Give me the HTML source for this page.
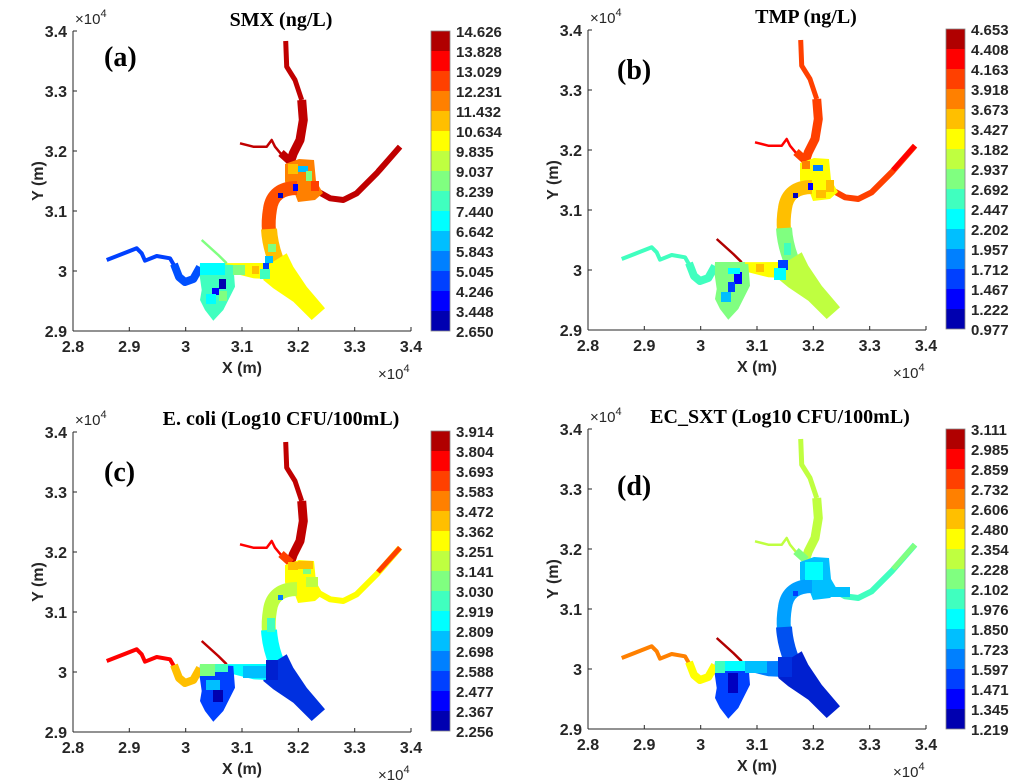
<!DOCTYPE html>
<html><head><meta charset="utf-8"><style>
html,body{margin:0;padding:0;background:#fff}
svg{display:block}
.t{font-family:"Liberation Sans",Arial,sans-serif;font-weight:bold;font-size:16px;fill:#262626}
.cb{font-family:"Liberation Sans",Arial,sans-serif;font-weight:bold;font-size:15px;fill:#262626}
.ti{font-family:"Liberation Serif","Times New Roman",serif;font-weight:bold;font-size:20px;fill:#000}
.lb{font-family:"Liberation Serif","Times New Roman",serif;font-weight:bold;font-size:28px;fill:#000}
.sm{font-family:"Liberation Sans",Arial,sans-serif;font-size:15px;fill:#262626}
</style></head><body>
<svg width="1026" height="781" viewBox="0 0 1026 781" xmlns="http://www.w3.org/2000/svg">
<defs>
<g id="shape" fill="none" stroke-linejoin="round" stroke-linecap="butt">
  <path d="M212.7,10 L213.7,35.7 L222,49 L228.7,69" style="stroke:var(--n)" stroke-width="5"/>
  <path d="M228.7,69 L230.3,89 L227,109 L220.3,122.3 L217,132" style="stroke:var(--n)" stroke-width="9"/>
  <path d="M167,112.3 L180.3,115.7 L193.7,115.7 L198.7,109 L202,115.7 L210.3,125.7 L218.7,131" style="stroke:var(--nw)" stroke-width="2.5"/>
  <path d="M208,122 L218,131" style="stroke:var(--nw2)" stroke-width="8"/>
  <path d="M327,115.7 L303.7,142.3 L283.7,162.3 L270.3,169 L257,167.3 L245.3,160.7" style="stroke:var(--ne)" stroke-width="6"/>
  <path d="M305,140 L327,115.7" style="stroke:var(--ne2)" stroke-width="5"/>
  <polygon points="212,133 226,128 241,129 243,150 250,162 242,169 225,171 222,163 214,160 212,150" style="fill:var(--j)"/>
  <path d="M224,157 Q200,157 197,178 Q195,190 196,200" style="stroke:var(--m1)" stroke-width="14"/>
  <path d="M196,198 Q197,215 204,232" style="stroke:var(--m2)" stroke-width="16"/>
  <polygon points="192,235.7 213.7,222.3 220.3,235.7 233.7,255.7 252,277.3 238.7,289 220.3,270.7 200.3,257.3 190.3,249" style="fill:var(--f)"/>
  <polygon points="127,232.3 193.7,232 196,248 180.3,247.3 160.3,242.3 127,244" style="fill:var(--w)"/>
  <polygon points="127,232.3 160.3,234 162,255.7 150.3,279 140.3,289.7 132,279 127,269 128.7,259 126.3,242.3" style="fill:var(--l)"/>
  <path d="M33.7,229 L63.7,217.3 L68.7,222.3 L72,229.7 L83.7,225 L97,227.3 L103.7,239" style="stroke:var(--r)" stroke-width="4"/>
  <path d="M101,233 L106,246 L112,251 L120.3,248 L127,236" style="stroke:var(--r2)" stroke-width="8"/>
  <path d="M128.7,209 L145.3,224 L153.7,232.3" style="stroke:var(--s)" stroke-width="2.5"/>
</g>
<g id="axes">
  <line x1="0" y1="0" x2="0" y2="300" stroke="#262626" stroke-width="1"/>
  <line x1="0" y1="300" x2="338" y2="300" stroke="#262626" stroke-width="1"/>
  <g stroke="#262626" stroke-width="1">
    <line x1="56.3" y1="300" x2="56.3" y2="296"/><line x1="112.7" y1="300" x2="112.7" y2="296"/><line x1="169" y1="300" x2="169" y2="296"/><line x1="225.3" y1="300" x2="225.3" y2="296"/><line x1="281.7" y1="300" x2="281.7" y2="296"/><line x1="338" y1="300" x2="338" y2="296"/>
    <line x1="0" y1="0" x2="4" y2="0"/><line x1="0" y1="60" x2="4" y2="60"/><line x1="0" y1="120" x2="4" y2="120"/><line x1="0" y1="180" x2="4" y2="180"/><line x1="0" y1="240" x2="4" y2="240"/>
  </g>
  <g class="t" text-anchor="middle">
    <text x="0" y="321">2.8</text><text x="56.3" y="321">2.9</text><text x="112.7" y="321">3</text><text x="169" y="321">3.1</text><text x="225.3" y="321">3.2</text><text x="281.7" y="321">3.3</text><text x="338" y="321">3.4</text>
  </g>
  <g class="t" text-anchor="end">
    <text x="-6" y="6">3.4</text><text x="-6" y="66">3.3</text><text x="-6" y="126">3.2</text><text x="-6" y="186">3.1</text><text x="-6" y="246">3</text><text x="-6" y="306">2.9</text>
  </g>
  <text class="t" x="169" y="342" text-anchor="middle" font-size="17">X (m)</text>
  <text class="t" transform="translate(-30,150) rotate(-90)" text-anchor="middle" font-size="17">Y (m)</text>
  <text class="sm" x="2" y="-7">×10<tspan dy="-7" font-size="11">4</tspan></text>
  <text class="sm" x="305" y="348">×10<tspan dy="-7" font-size="11">4</tspan></text>
</g>
<g id="cbar">
  <rect x="0" y="0" width="19" height="20" fill="#b00000"/>
  <rect x="0" y="20" width="19" height="20" fill="#ff0000"/>
  <rect x="0" y="40" width="19" height="20" fill="#ff4000"/>
  <rect x="0" y="60" width="19" height="20" fill="#ff8000"/>
  <rect x="0" y="80" width="19" height="20" fill="#ffbf00"/>
  <rect x="0" y="100" width="19" height="20" fill="#ffff00"/>
  <rect x="0" y="120" width="19" height="20" fill="#bfff40"/>
  <rect x="0" y="140" width="19" height="20" fill="#80ff80"/>
  <rect x="0" y="160" width="19" height="20" fill="#40ffbf"/>
  <rect x="0" y="180" width="19" height="20" fill="#00ffff"/>
  <rect x="0" y="200" width="19" height="20" fill="#00bfff"/>
  <rect x="0" y="220" width="19" height="20" fill="#0080ff"/>
  <rect x="0" y="240" width="19" height="20" fill="#0040ff"/>
  <rect x="0" y="260" width="19" height="20" fill="#0000ff"/>
  <rect x="0" y="280" width="19" height="20" fill="#0000b0"/>
  <rect x="0" y="0" width="19" height="300" fill="none" stroke="#888" stroke-width="0.8"/>
</g>
</defs>

<!-- Panel a -->
<g transform="translate(73,31)">
  <use href="#shape" style="--n:#c00000;--nw:#c00000;--nw2:#c00000;--ne:#c00000;--ne2:#c00000;--j:#ff8000;--m1:#ff5000;--m2:#ffbf00;--f:#ffff00;--w:#ffff00;--l:#40ffbf;--r:#0040ff;--r2:#0050ff;--s:#80ff80"/>
  <rect x="127" y="232" width="25" height="12" fill="#00ffff"/>
  <rect x="160" y="234" width="12" height="10" fill="#80ff80"/>
  <rect x="179" y="235" width="7" height="8" fill="#ffbf00"/>
  <rect x="190" y="232" width="6" height="6" fill="#0040ff"/>
  <rect x="187" y="238" width="10" height="10" fill="#40ffbf"/>
  <rect x="192" y="225" width="8" height="7" fill="#00bfff"/>
  <rect x="195" y="213" width="8" height="8" fill="#80ff80"/>
  <rect x="146" y="248" width="7" height="10" fill="#0000b0"/>
  <rect x="139" y="257" width="7" height="7" fill="#0000ff"/>
  <rect x="133" y="263" width="10" height="10" fill="#00ffff"/>
  <rect x="146" y="260" width="8" height="10" fill="#80ff80"/>
  <rect x="225" y="135" width="10" height="6" fill="#00bfff"/>
  <rect x="215" y="133" width="10" height="10" fill="#ffbf00"/>
  <rect x="233" y="140" width="6" height="10" fill="#80ff80"/>
  <rect x="220" y="153" width="5" height="7" fill="#0000ff"/>
  <rect x="205" y="162" width="5" height="5" fill="#0000c0"/>
  <rect x="238" y="150" width="8" height="10" fill="#ff4000"/>
</g>
<use href="#axes" x="73" y="31"/>
<use href="#cbar" x="431" y="31"/>
<text class="ti" x="281" y="26" text-anchor="middle">SMX (ng/L)</text>
<text class="lb" x="104" y="66">(a)</text>
<g class="cb" transform="translate(456,37)">
<text y="0">14.626</text><text y="20">13.828</text><text y="40">13.029</text><text y="60">12.231</text><text y="80">11.432</text><text y="100">10.634</text><text y="120">9.835</text><text y="140">9.037</text><text y="160">8.239</text><text y="180">7.440</text><text y="200">6.642</text><text y="220">5.843</text><text y="240">5.045</text><text y="260">4.246</text><text y="280">3.448</text><text y="300">2.650</text>
</g>

<!-- Panel b -->
<g transform="translate(588,30)">
  <use href="#shape" style="--n:#ff4000;--nw:#ff0000;--nw2:#ff4000;--ne:#ff4000;--ne2:#ff0000;--j:#ffff00;--m1:#ffbf00;--m2:#80ff80;--f:#bfff40;--w:#ffff00;--l:#80ff80;--r:#40ffbf;--r2:#40ffbf;--s:#b00000"/>
  <rect x="127" y="232" width="30" height="12" fill="#80ff80"/>
  <rect x="146" y="242" width="8" height="12" fill="#0000ff"/>
  <rect x="140" y="252" width="7" height="10" fill="#0040ff"/>
  <rect x="133" y="262" width="10" height="10" fill="#00bfff"/>
  <rect x="140" y="238" width="12" height="6" fill="#00ffff"/>
  <rect x="190" y="230" width="10" height="10" fill="#0040ff"/>
  <rect x="186" y="238" width="12" height="12" fill="#00ffff"/>
  <rect x="168" y="234" width="8" height="8" fill="#ffbf00"/>
  <rect x="196" y="213" width="7" height="12" fill="#40ffbf"/>
  <rect x="225" y="135" width="10" height="6" fill="#0080ff"/>
  <rect x="214" y="131" width="8" height="8" fill="#ff8000"/>
  <rect x="220" y="153" width="5" height="7" fill="#0000ff"/>
  <rect x="205" y="163" width="5" height="5" fill="#0000c0"/>
  <rect x="238" y="150" width="8" height="12" fill="#ffbf00"/>
  <rect x="228" y="160" width="10" height="8" fill="#ffbf00"/>
</g>
<use href="#axes" x="588" y="30"/>
<use href="#cbar" x="946" y="29"/>
<text class="ti" x="806" y="23" text-anchor="middle">TMP (ng/L)</text>
<text class="lb" x="617" y="79">(b)</text>
<g class="cb" transform="translate(971,35)">
<text y="0">4.653</text><text y="20">4.408</text><text y="40">4.163</text><text y="60">3.918</text><text y="80">3.673</text><text y="100">3.427</text><text y="120">3.182</text><text y="140">2.937</text><text y="160">2.692</text><text y="180">2.447</text><text y="200">2.202</text><text y="220">1.957</text><text y="240">1.712</text><text y="260">1.467</text><text y="280">1.222</text><text y="300">0.977</text>
</g>

<!-- Panel c -->
<g transform="translate(73,432)">
  <use href="#shape" style="--n:#c00000;--nw:#ff0000;--nw2:#ff4000;--ne:#ffff00;--ne2:#ff4000;--j:#ffff00;--m1:#bfff40;--m2:#00ffff;--f:#0030e0;--w:#00ffff;--l:#0040ff;--r:#ff0000;--r2:#ffbf00;--s:#c00000"/>
  <rect x="127" y="232" width="15" height="12" fill="#80ff80"/>
  <rect x="142" y="232" width="13" height="8" fill="#40ffbf"/>
  <rect x="170" y="234" width="24" height="12" fill="#00bfff"/>
  <rect x="193" y="228" width="12" height="20" fill="#0020d0"/>
  <rect x="140" y="258" width="10" height="12" fill="#0000b0"/>
  <rect x="133" y="248" width="14" height="10" fill="#00bfff"/>
  <rect x="195" y="200" width="9" height="14" fill="#00ffff"/>
  <rect x="194" y="186" width="8" height="14" fill="#40ffbf"/>
  <rect x="215" y="130" width="10" height="8" fill="#ffbf00"/>
  <rect x="225" y="129" width="15" height="8" fill="#ffbf00"/>
  <rect x="230" y="137" width="8" height="5" fill="#80ff80"/>
  <rect x="233" y="145" width="12" height="10" fill="#bfff40"/>
  <rect x="205" y="163" width="5" height="5" fill="#0080ff"/>
</g>
<use href="#axes" x="73" y="432"/>
<use href="#cbar" x="431" y="431"/>
<text class="ti" x="281" y="425" text-anchor="middle">E. coli (Log10 CFU/100mL)</text>
<text class="lb" x="104" y="481">(c)</text>
<g class="cb" transform="translate(456,437)">
<text y="0">3.914</text><text y="20">3.804</text><text y="40">3.693</text><text y="60">3.583</text><text y="80">3.472</text><text y="100">3.362</text><text y="120">3.251</text><text y="140">3.141</text><text y="160">3.030</text><text y="180">2.919</text><text y="200">2.809</text><text y="220">2.698</text><text y="240">2.588</text><text y="260">2.477</text><text y="280">2.367</text><text y="300">2.256</text>
</g>

<!-- Panel d -->
<g transform="translate(588,429)">
  <use href="#shape" style="--n:#bfff40;--nw:#bfff40;--nw2:#80ff80;--ne:#40ffbf;--ne2:#80ff80;--j:#00bfff;--m1:#00a0ff;--m2:#0050f0;--f:#0020d0;--w:#0080ff;--l:#0040ff;--r:#ff8000;--r2:#ffff00;--s:#b00000"/>
  <rect x="217" y="133" width="18" height="18" fill="#00ffff"/>
  <rect x="127" y="232" width="10" height="12" fill="#40ffbf"/>
  <rect x="137" y="232" width="20" height="10" fill="#00ffff"/>
  <rect x="157" y="232" width="22" height="12" fill="#00bfff"/>
  <rect x="190" y="228" width="14" height="20" fill="#0030e0"/>
  <rect x="140" y="244" width="10" height="20" fill="#0000c0"/>
  <rect x="242" y="158" width="20" height="10" fill="#00bfff"/>
  <rect x="205" y="162" width="5" height="5" fill="#0040ff"/>
</g>
<use href="#axes" x="588" y="429"/>
<use href="#cbar" x="946" y="429"/>
<text class="ti" x="780" y="423" text-anchor="middle">EC_SXT (Log10 CFU/100mL)</text>
<text class="lb" x="617" y="495">(d)</text>
<g class="cb" transform="translate(971,435)">
<text y="0">3.111</text><text y="20">2.985</text><text y="40">2.859</text><text y="60">2.732</text><text y="80">2.606</text><text y="100">2.480</text><text y="120">2.354</text><text y="140">2.228</text><text y="160">2.102</text><text y="180">1.976</text><text y="200">1.850</text><text y="220">1.723</text><text y="240">1.597</text><text y="260">1.471</text><text y="280">1.345</text><text y="300">1.219</text>
</g>
</svg>
</body></html>
